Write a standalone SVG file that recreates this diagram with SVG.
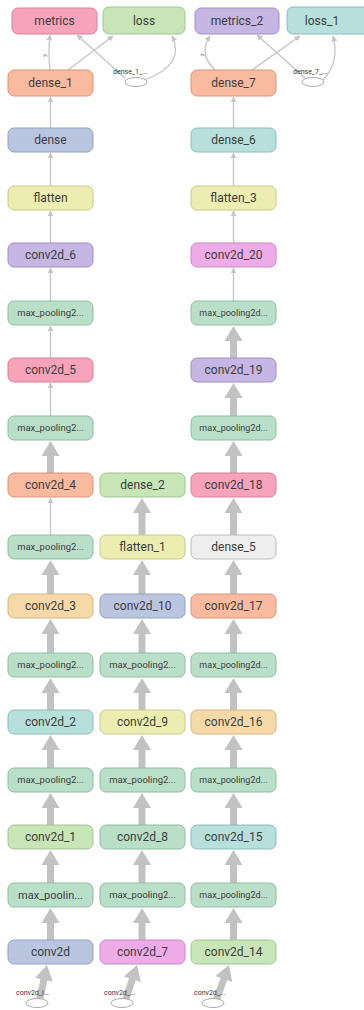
<svg xmlns="http://www.w3.org/2000/svg" width="364" height="1010" viewBox="0 0 364 1010">
<style>
text{font-family:Roboto,"Liberation Sans",sans-serif;fill:#3d3d3d;text-anchor:middle}
.n{stroke-width:1}
.l{font-size:12px}
.s{font-size:9.5px}
.e{font-size:7px;text-anchor:start;fill:#333}
.thin{fill:none;stroke:#c4c4c4;stroke-width:1.3}
.thick{fill:#c2c2c2}
.pink{fill:#f7a3bc;stroke:#d3839b}
.green{fill:#c7e5b7;stroke:#a5c494}
.lav{fill:#c5b6e3;stroke:#a090c1}
.teal{fill:#b7dfdb;stroke:#92bcb8}
.salmon{fill:#f9baa0;stroke:#d6977c}
.blue{fill:#bac5df;stroke:#96a1bd}
.yellow{fill:#ecedb0;stroke:#c8c98c}
.mag{fill:#eeabe8;stroke:#c98ac3}
.mp{fill:#b9dfc8;stroke:#93bba2}
.gray{fill:#eeeeee;stroke:#bdbdbd}
.tan{fill:#f5d9a9;stroke:#d2b684}
.oval{fill:#fff;stroke:#aaa;stroke-width:1}
</style>
<defs>
<marker id="ah" viewBox="0 0 10 10" refX="9" refY="5" markerWidth="6" markerHeight="6" markerUnits="userSpaceOnUse" orient="auto">
<path d="M0,0 L10,5 L0,10 Z" fill="#c4c4c4"/>
</marker>
</defs>

<g id="connectors">
<!-- top -->
<path class="thin" marker-end="url(#ah)" d="M50,70 Q48,52 50,35"/>
<path class="thin" marker-end="url(#ah)" d="M68,70 L113,36"/>
<path class="thin" marker-end="url(#ah)" d="M125,78 L77,35"/>
<path class="thin" marker-end="url(#ah)" d="M145,80 Q186,64 172,36"/>
<path class="thin" marker-end="url(#ah)" d="M215,70 Q198,54 210,36"/>
<path class="thin" marker-end="url(#ah)" d="M252,70 L300,36"/>
<path class="thin" marker-end="url(#ah)" d="M305,78 L257,35"/>
<path class="thin" marker-end="url(#ah)" d="M323,80 Q340,62 333,36"/>
<text x="0" y="0" transform="translate(48,56) rotate(-80)" style="font-size:6px">?</text>
<text x="0" y="0" transform="translate(205,56) rotate(-70)" style="font-size:6px">?</text>
<!-- column 1 thin -->
<path class="thin" marker-end="url(#ah)" d="M50.5,128 L50.5,97"/>
<path class="thin" marker-end="url(#ah)" d="M50.5,186 L50.5,153"/>
<path class="thin" marker-end="url(#ah)" d="M50.5,243 L50.5,211"/>
<path class="thin" marker-end="url(#ah)" d="M50.5,301 L50.5,268"/>
<path class="thin" marker-end="url(#ah)" d="M50.5,358 L50.5,326"/>
<path class="thin" marker-end="url(#ah)" d="M50.5,416 L50.5,383"/>
<path class="thin" marker-end="url(#ah)" d="M50.5,535 L50.5,498"/>
<!-- column 3 thin -->
<path class="thin" marker-end="url(#ah)" d="M233.5,128 L233.5,97"/>
<path class="thin" marker-end="url(#ah)" d="M233.5,186 L233.5,153"/>
<path class="thin" marker-end="url(#ah)" d="M233.5,243 L233.5,211"/>
<path class="thin" marker-end="url(#ah)" d="M233.5,301 L233.5,268"/>
<!-- thick arrows column 1 -->
<path class="thick" d="M50.5,441 L59.5,456 L54,456 L54,473 L47,473 L47,456 L41.5,456 Z"/>
<path class="thick" d="M50.5,619 L59.5,634 L54,634 L54,653 L47,653 L47,634 L41.5,634 Z"/>
<path class="thick" d="M50.5,678 L59.5,693 L54,693 L54,710 L47,710 L47,693 L41.5,693 Z"/>
<path class="thick" d="M50.5,735 L59.5,750 L54,750 L54,768 L47,768 L47,750 L41.5,750 Z"/>
<path class="thick" d="M50.5,793 L59.5,808 L54,808 L54,825 L47,825 L47,808 L41.5,808 Z"/>
<path class="thick" d="M50.5,850 L59.5,865 L54,865 L54,883 L47,883 L47,865 L41.5,865 Z"/>
<path class="thick" d="M50.5,908 L59.5,923 L54,923 L54,940 L47,940 L47,923 L41.5,923 Z"/>
<path class="thick" d="M50.5,560 L59.5,575 L54,575 L54,594 L47,594 L47,575 L41.5,575 Z"/>
<!-- thick arrows column 2 -->
<path class="thick" d="M142,498 L151,513 L145.5,513 L145.5,535 L138.5,535 L138.5,513 L133,513 Z"/>
<path class="thick" d="M142,560 L151,575 L145.5,575 L145.5,594 L138.5,594 L138.5,575 L133,575 Z"/>
<path class="thick" d="M142,619 L151,634 L145.5,634 L145.5,653 L138.5,653 L138.5,634 L133,634 Z"/>
<path class="thick" d="M142,678 L151,693 L145.5,693 L145.5,710 L138.5,710 L138.5,693 L133,693 Z"/>
<path class="thick" d="M142,735 L151,750 L145.5,750 L145.5,768 L138.5,768 L138.5,750 L133,750 Z"/>
<path class="thick" d="M142,793 L151,808 L145.5,808 L145.5,825 L138.5,825 L138.5,808 L133,808 Z"/>
<path class="thick" d="M142,850 L151,865 L145.5,865 L145.5,883 L138.5,883 L138.5,865 L133,865 Z"/>
<path class="thick" d="M142,908 L151,923 L145.5,923 L145.5,940 L138.5,940 L138.5,923 L133,923 Z"/>
<!-- thick arrows column 3 -->
<path class="thick" d="M233.5,326 L242.5,341 L237,341 L237,358 L230,358 L230,341 L224.5,341 Z"/>
<path class="thick" d="M233.5,383 L242.5,398 L237,398 L237,416 L230,416 L230,398 L224.5,398 Z"/>
<path class="thick" d="M233.5,441 L242.5,456 L237,456 L237,473 L230,473 L230,456 L224.5,456 Z"/>
<path class="thick" d="M233.5,498 L242.5,513 L237,513 L237,535 L230,535 L230,513 L224.5,513 Z"/>
<path class="thick" d="M233.5,560 L242.5,575 L237,575 L237,594 L230,594 L230,575 L224.5,575 Z"/>
<path class="thick" d="M233.5,619 L242.5,634 L237,634 L237,653 L230,653 L230,634 L224.5,634 Z"/>
<path class="thick" d="M233.5,678 L242.5,693 L237,693 L237,710 L230,710 L230,693 L224.5,693 Z"/>
<path class="thick" d="M233.5,735 L242.5,750 L237,750 L237,768 L230,768 L230,750 L224.5,750 Z"/>
<path class="thick" d="M233.5,793 L242.5,808 L237,808 L237,825 L230,825 L230,808 L224.5,808 Z"/>
<path class="thick" d="M233.5,850 L242.5,865 L237,865 L237,883 L230,883 L230,865 L224.5,865 Z"/>
<path class="thick" d="M233.5,908 L242.5,923 L237,923 L237,940 L230,940 L230,923 L224.5,923 Z"/>
<!-- input arrows (diagonal) -->
<path class="thick" transform="rotate(12 47 965)" d="M47,965 L56,980 L50.5,980 L50.5,1002 L43.5,1002 L43.5,980 L38,980 Z"/>
<path class="thick" transform="rotate(18 137 965)" d="M137,965 L146,980 L140.5,980 L140.5,1002 L133.5,1002 L133.5,980 L128,980 Z"/>
<path class="thick" transform="rotate(20 229 965)" d="M229,965 L238,980 L232.5,980 L232.5,1002 L225.5,1002 L225.5,980 L220,980 Z"/>
</g>

<g id="metrics"><rect class="n pink" x="12" y="8" width="85" height="26" rx="6"/><text class="l" x="54.5" y="25">metrics</text></g>
<g id="loss"><rect class="n green" x="103" y="7" width="82" height="27" rx="6"/><text class="l" x="144" y="25">loss</text></g>
<g id="metrics_2"><rect class="n lav" x="195" y="8" width="84" height="26" rx="6"/><text class="l" x="237" y="25">metrics_2</text></g>
<g id="loss_1"><rect class="n teal" x="287" y="7" width="84" height="27" rx="6"/><text class="l" x="322" y="25">loss_1</text></g>

<g id="dense_1"><rect class="n salmon" x="8" y="70" width="85" height="26" rx="6"/><text class="l" x="50.5" y="87">dense_1</text></g>
<g id="dense_7"><rect class="n salmon" x="191" y="70" width="85" height="26" rx="6"/><text class="l" x="233.5" y="87">dense_7</text></g>
<g id="dense_1_in"><ellipse class="oval" cx="136" cy="82" rx="11" ry="4.5"/><text class="e" x="113" y="74">dense_1_...</text></g>
<g id="dense_7_in"><ellipse class="oval" cx="313" cy="82" rx="11" ry="4.5"/><text class="e" x="293" y="74">dense_7_...</text></g>

<!-- column 1 -->
<g id="dense"><rect class="n blue" x="8" y="128" width="85" height="24" rx="6"/><text class="l" x="50.5" y="144">dense</text></g>
<g id="flatten"><rect class="n yellow" x="8" y="186" width="85" height="24" rx="6"/><text class="l" x="50.5" y="202">flatten</text></g>
<g id="conv2d_6"><rect class="n lav" x="8" y="243" width="85" height="24" rx="6"/><text class="l" x="50.5" y="259">conv2d_6</text></g>
<g id="max_pooling2d_5"><rect class="n mp" x="8" y="301" width="85" height="24" rx="6"/><text class="s" x="50.5" y="316">max_pooling2...</text></g>
<g id="conv2d_5"><rect class="n pink" x="8" y="358" width="85" height="24" rx="6"/><text class="l" x="50.5" y="374">conv2d_5</text></g>
<g id="max_pooling2d_4"><rect class="n mp" x="8" y="416" width="85" height="24" rx="6"/><text class="s" x="50.5" y="431">max_pooling2...</text></g>
<g id="conv2d_4"><rect class="n salmon" x="8" y="473" width="85" height="24" rx="6"/><text class="l" x="50.5" y="489">conv2d_4</text></g>
<g id="max_pooling2d_3"><rect class="n mp" x="8" y="535" width="85" height="24" rx="6"/><text class="s" x="50.5" y="550">max_pooling2...</text></g>
<g id="conv2d_3"><rect class="n tan" x="8" y="594" width="85" height="24" rx="6"/><text class="l" x="50.5" y="610">conv2d_3</text></g>
<g id="max_pooling2d_2"><rect class="n mp" x="8" y="653" width="85" height="24" rx="6"/><text class="s" x="50.5" y="668">max_pooling2...</text></g>
<g id="conv2d_2"><rect class="n teal" x="8" y="710" width="85" height="24" rx="6"/><text class="l" x="50.5" y="726">conv2d_2</text></g>
<g id="max_pooling2d_1"><rect class="n mp" x="8" y="768" width="85" height="24" rx="6"/><text class="s" x="50.5" y="783">max_pooling2...</text></g>
<g id="conv2d_1"><rect class="n green" x="8" y="825" width="85" height="24" rx="6"/><text class="l" x="50.5" y="841">conv2d_1</text></g>
<g id="max_pooling2d"><rect class="n mp" x="8" y="883" width="85" height="24" rx="6"/><text class="l" x="50.5" y="899" style="font-size:11px">max_poolin...</text></g>
<g id="conv2d"><rect class="n blue" x="8" y="940" width="85" height="24" rx="6"/><text class="l" x="50.5" y="956">conv2d</text></g>
<g id="conv2d_input"><ellipse class="oval" cx="37" cy="1003" rx="11" ry="4.5"/><text class="e" x="16" y="995">conv2d_i...</text></g>

<!-- column 2 -->
<g id="dense_2"><rect class="n green" x="100" y="473" width="85" height="24" rx="6"/><text class="l" x="142.5" y="489">dense_2</text></g>
<g id="flatten_1"><rect class="n yellow" x="100" y="535" width="85" height="24" rx="6"/><text class="l" x="142.5" y="551">flatten_1</text></g>
<g id="conv2d_10"><rect class="n blue" x="100" y="594" width="85" height="24" rx="6"/><text class="l" x="142.5" y="610">conv2d_10</text></g>
<g id="max_pooling2d_9"><rect class="n mp" x="100" y="653" width="85" height="24" rx="6"/><text class="s" x="142.5" y="668">max_pooling2...</text></g>
<g id="conv2d_9"><rect class="n yellow" x="100" y="710" width="85" height="24" rx="6"/><text class="l" x="142.5" y="726">conv2d_9</text></g>
<g id="max_pooling2d_8"><rect class="n mp" x="100" y="768" width="85" height="24" rx="6"/><text class="s" x="142.5" y="783">max_pooling2...</text></g>
<g id="conv2d_8"><rect class="n mp" x="100" y="825" width="85" height="24" rx="6"/><text class="l" x="142.5" y="841">conv2d_8</text></g>
<g id="max_pooling2d_7"><rect class="n mp" x="100" y="883" width="85" height="24" rx="6"/><text class="s" x="142.5" y="898">max_pooling2...</text></g>
<g id="conv2d_7"><rect class="n mag" x="100" y="940" width="85" height="24" rx="6"/><text class="l" x="142.5" y="956">conv2d_7</text></g>
<g id="conv2d_7_input"><ellipse class="oval" cx="122" cy="1003" rx="11" ry="4.5"/><text class="e" x="104" y="995">conv2d_...</text></g>

<!-- column 3 -->
<g id="dense_6"><rect class="n teal" x="191" y="128" width="85" height="24" rx="6"/><text class="l" x="233.5" y="144">dense_6</text></g>
<g id="flatten_3"><rect class="n yellow" x="191" y="186" width="85" height="24" rx="6"/><text class="l" x="233.5" y="202">flatten_3</text></g>
<g id="conv2d_20"><rect class="n mag" x="191" y="243" width="85" height="24" rx="6"/><text class="l" x="233.5" y="259">conv2d_20</text></g>
<g id="max_pooling2d_19"><rect class="n mp" x="191" y="301" width="85" height="24" rx="6"/><text class="s" x="233.5" y="316" style="font-size:9px">max_pooling2d...</text></g>
<g id="conv2d_19"><rect class="n lav" x="191" y="358" width="85" height="24" rx="6"/><text class="l" x="233.5" y="374">conv2d_19</text></g>
<g id="max_pooling2d_18"><rect class="n mp" x="191" y="416" width="85" height="24" rx="6"/><text class="s" x="233.5" y="431" style="font-size:9px">max_pooling2d...</text></g>
<g id="conv2d_18"><rect class="n pink" x="191" y="473" width="85" height="24" rx="6"/><text class="l" x="233.5" y="489">conv2d_18</text></g>
<g id="dense_5"><rect class="n gray" x="191" y="535" width="85" height="24" rx="6"/><text class="l" x="233.5" y="551">dense_5</text></g>
<g id="conv2d_17"><rect class="n salmon" x="191" y="594" width="85" height="24" rx="6"/><text class="l" x="233.5" y="610">conv2d_17</text></g>
<g id="max_pooling2d_16"><rect class="n mp" x="191" y="653" width="85" height="24" rx="6"/><text class="s" x="233.5" y="668" style="font-size:9px">max_pooling2d...</text></g>
<g id="conv2d_16"><rect class="n tan" x="191" y="710" width="85" height="24" rx="6"/><text class="l" x="233.5" y="726">conv2d_16</text></g>
<g id="max_pooling2d_15"><rect class="n mp" x="191" y="768" width="85" height="24" rx="6"/><text class="s" x="233.5" y="783" style="font-size:9px">max_pooling2d...</text></g>
<g id="conv2d_15"><rect class="n teal" x="191" y="825" width="85" height="24" rx="6"/><text class="l" x="233.5" y="841">conv2d_15</text></g>
<g id="max_pooling2d_14"><rect class="n mp" x="191" y="883" width="85" height="24" rx="6"/><text class="s" x="233.5" y="898" style="font-size:9px">max_pooling2d...</text></g>
<g id="conv2d_14"><rect class="n green" x="191" y="940" width="85" height="24" rx="6"/><text class="l" x="233.5" y="956">conv2d_14</text></g>
<g id="conv2d_14_input"><ellipse class="oval" cx="213" cy="1003" rx="11" ry="4.5"/><text class="e" x="194" y="995">conv2d_...</text></g>
</svg>
